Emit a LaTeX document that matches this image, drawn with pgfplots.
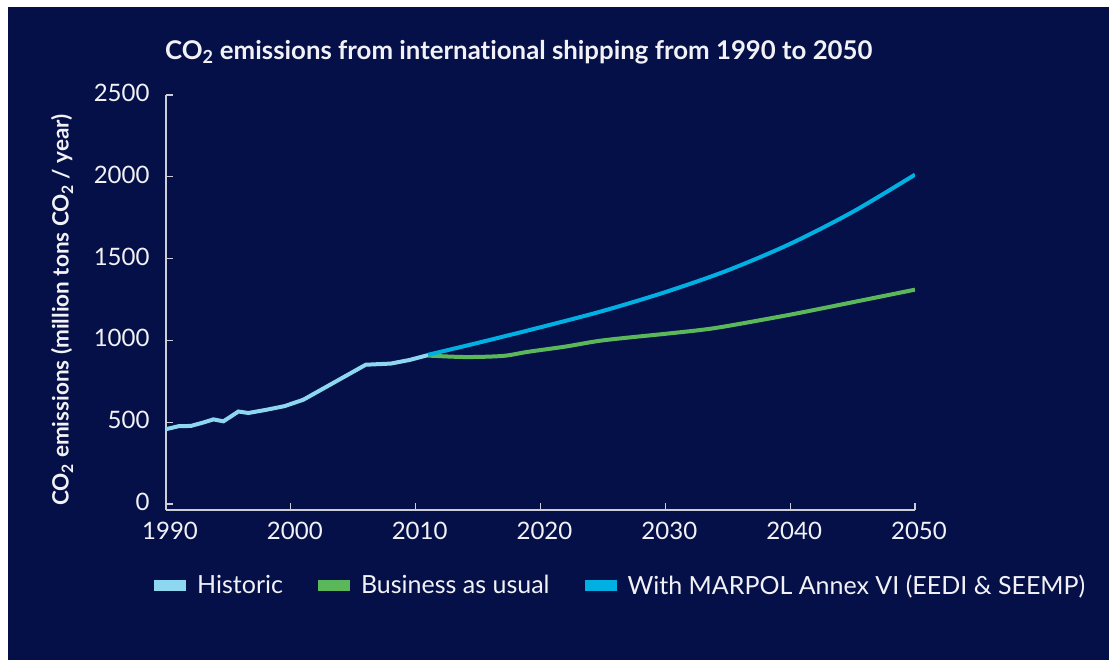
\documentclass[border=0pt]{standalone}
\usepackage{fontspec}
\setmainfont{Lato}[Ligatures=NoCommon]
\usepackage{pgfplots}
\pgfplotsset{compat=1.18}
\definecolor{bg}{RGB}{5,16,72}
\definecolor{histc}{RGB}{141,215,240}
\definecolor{bauc}{RGB}{90,184,90}
\definecolor{marpolc}{RGB}{0,176,227}
\definecolor{axc}{RGB}{205,205,215}
\definecolor{txt}{RGB}{242,242,246}
\begin{document}
\begin{tikzpicture}
\fill[white] (0pt,0pt) rectangle (1109pt,660pt);
\fill[bg] (8pt,0pt) rectangle (1109pt,653pt);
\node[anchor=west, text=txt, font=\fontsize{25.8}{30}\selectfont\bfseries, inner sep=0pt] at (165pt,608pt) {CO\textsubscript{2} emissions from international shipping from 1990 to 2050};
\node[rotate=90, text=txt, font=\fontsize{22.5}{27}\selectfont\bfseries, inner sep=0pt] at (62pt,350pt) {CO\textsubscript{2} emissions (million tons CO\textsubscript{2} / year)};
\begin{axis}[
  at={(166pt,150pt)}, anchor=south west,
  scale only axis, width=749pt, height=415pt,
  xmin=1990, xmax=2050, ymin=-37, ymax=2500,
  axis x line=bottom, axis y line=left,
  axis line style={-, draw=axc, line width=1.2pt},
  tick style={draw=axc, line width=1.2pt},
  tick align=inside, major tick length=7pt,
  xtick={1990,2000,...,2050}, ytick={0,500,...,2500},
  /pgf/number format/1000 sep={},
  /pgf/number format/assume math mode=true,
  ticklabel style={font=\fontsize{24}{28}\selectfont, text=txt},
  xticklabel style={yshift=-9pt, xshift=4pt},
  yticklabel style={xshift=-13pt, yshift=2pt},
  legend columns=3,
  legend style={at={(-0.016,-0.181)}, anchor=west, draw=none, fill=none,
    font=\fontsize{25}{30}\selectfont, text=txt, inner sep=0pt,
    nodes={inner sep=0pt},
    /tikz/every odd column/.append style={column sep=11pt},
    /tikz/every even column/.append style={column sep=35pt}},
  legend image code/.code={\fill[#1] (0pt,-3.5pt) rectangle (28pt,3.5pt);},
]
\addplot[histc, line width=4pt] coordinates {
(1990,457) (1991,475) (1992,477) (1993,498) (1993.8,517) (1994.6,505) (1995.8,565) (1996.6,556) (1998,575) (1999.5,598) (2001,637) (2006,851) (2008,858) (2009.5,880) (2011,910)};
\addlegendentry{Historic}
\addplot[bauc, line width=4pt, smooth] coordinates {
(2011,907) (2014,898) (2017,905) (2019,930) (2022,962) (2025,1000) (2030,1040) (2033,1065) (2035,1088) (2040,1157) (2045,1233) (2050,1310)};
\addlegendentry{Business as usual}
\addplot[marpolc, line width=4pt, smooth] coordinates {
(2011,912) (2015,985) (2020,1080) (2025,1180) (2030,1295) (2035,1428) (2040,1590) (2045,1785) (2050,2013)};
\addlegendentry{With MARPOL Annex VI (EEDI \& SEEMP)}
\draw[axc, line width=1.2pt] (axis cs:1989.3,-37) -- (axis cs:1990,-37);
\end{axis}
\end{tikzpicture}
\end{document}
